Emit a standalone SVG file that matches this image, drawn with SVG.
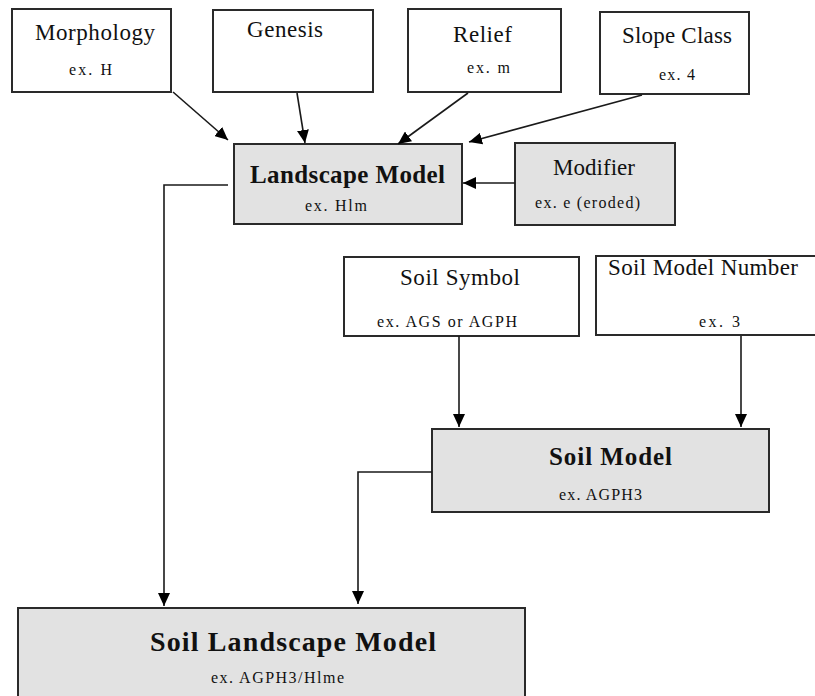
<svg xmlns="http://www.w3.org/2000/svg" width="815" height="696" viewBox="0 0 815 696">
<style>
.box{fill:#ffffff;stroke:#2a2a2a;stroke-width:2}
.gbox{fill:#e2e2e2;stroke:#2a2a2a;stroke-width:2}
.t{font-family:"Liberation Serif","Times New Roman",serif;font-size:23px;fill:#111}
.s{font-family:"Liberation Serif","Times New Roman",serif;font-size:16px;fill:#111}
.b{font-family:"Liberation Serif","Times New Roman",serif;font-size:25px;font-weight:bold;fill:#111}
.bb{font-family:"Liberation Serif","Times New Roman",serif;font-size:28px;font-weight:bold;fill:#111}
.c{fill:none;stroke:#1a1a1a;stroke-width:1.6}
</style>
<defs>
<marker id="ah" markerUnits="userSpaceOnUse" markerWidth="14" markerHeight="12" refX="13" refY="6" orient="auto">
<path d="M0,0 L13,6 L0,12 z" fill="#000"/>
</marker>
</defs>
<rect width="815" height="696" fill="#fff"/>

<g id="morphology">
<rect class="box" x="12" y="9" width="159" height="83"/>
<text class="t" x="35" y="40" textLength="120">Morphology</text>
<text class="s" x="69" y="75" textLength="43">ex. H</text>
</g>
<g id="genesis">
<rect class="box" x="213" y="10" width="160" height="82"/>
<text class="t" x="247" y="37" textLength="76">Genesis</text>
</g>
<g id="relief">
<rect class="box" x="408" y="9" width="153" height="83"/>
<text class="t" x="453" y="42" textLength="59">Relief</text>
<text class="s" x="467" y="73" textLength="43">ex. m</text>
</g>
<g id="slope">
<rect class="box" x="600" y="12" width="149" height="82"/>
<text class="t" x="622" y="43" textLength="110">Slope Class</text>
<text class="s" x="659" y="80" textLength="36">ex. 4</text>
</g>
<g id="landscape">
<rect class="gbox" x="234" y="144" width="228" height="80"/>
<text class="b" x="250" y="183" textLength="195">Landscape Model</text>
<text class="s" x="305" y="211" textLength="62">ex. Hlm</text>
</g>
<g id="modifier">
<rect class="gbox" x="515" y="143" width="160" height="82"/>
<text class="t" x="553" y="175" textLength="82">Modifier</text>
<text class="s" x="535" y="208" textLength="105">ex. e (eroded)</text>
</g>
<g id="soilsymbol">
<rect class="box" x="344" y="257" width="235" height="79"/>
<text class="t" x="400" y="285" textLength="120">Soil Symbol</text>
<text class="s" x="377" y="327" textLength="140">ex. AGS or AGPH</text>
</g>
<g id="soilmodelnumber">
<rect class="box" x="596" y="256" width="230" height="79"/>
<text class="t" x="608" y="275" textLength="190">Soil Model Number</text>
<text class="s" x="699" y="327" textLength="41">ex. 3</text>
</g>
<g id="soilmodel">
<rect class="gbox" x="432" y="429" width="337" height="83"/>
<text class="b" x="549" y="465" textLength="123">Soil Model</text>
<text class="s" x="559" y="500" textLength="83">ex. AGPH3</text>
</g>
<g id="soillandscape">
<rect class="gbox" x="18" y="608" width="507" height="100"/>
<text class="bb" x="150" y="651" textLength="286">Soil Landscape Model</text>
<text class="s" x="211" y="683" textLength="133">ex. AGPH3/Hlme</text>
</g>

<g id="connectors">
<path class="c" d="M173,92 L228,140" marker-end="url(#ah)"/>
<path class="c" d="M297,93 L305,143" marker-end="url(#ah)"/>
<path class="c" d="M468,93 L398,144" marker-end="url(#ah)"/>
<path class="c" d="M642,95 L469,142" marker-end="url(#ah)"/>
<path class="c" d="M515,183 L463,183" marker-end="url(#ah)"/>
<path class="c" d="M228,185 L164,185 L164,606" marker-end="url(#ah)"/>
<path class="c" d="M459,336 L459,427" marker-end="url(#ah)"/>
<path class="c" d="M741,336 L741,427" marker-end="url(#ah)"/>
<path class="c" d="M432,472 L358,472 L358,604" marker-end="url(#ah)"/>
</g>
</svg>
